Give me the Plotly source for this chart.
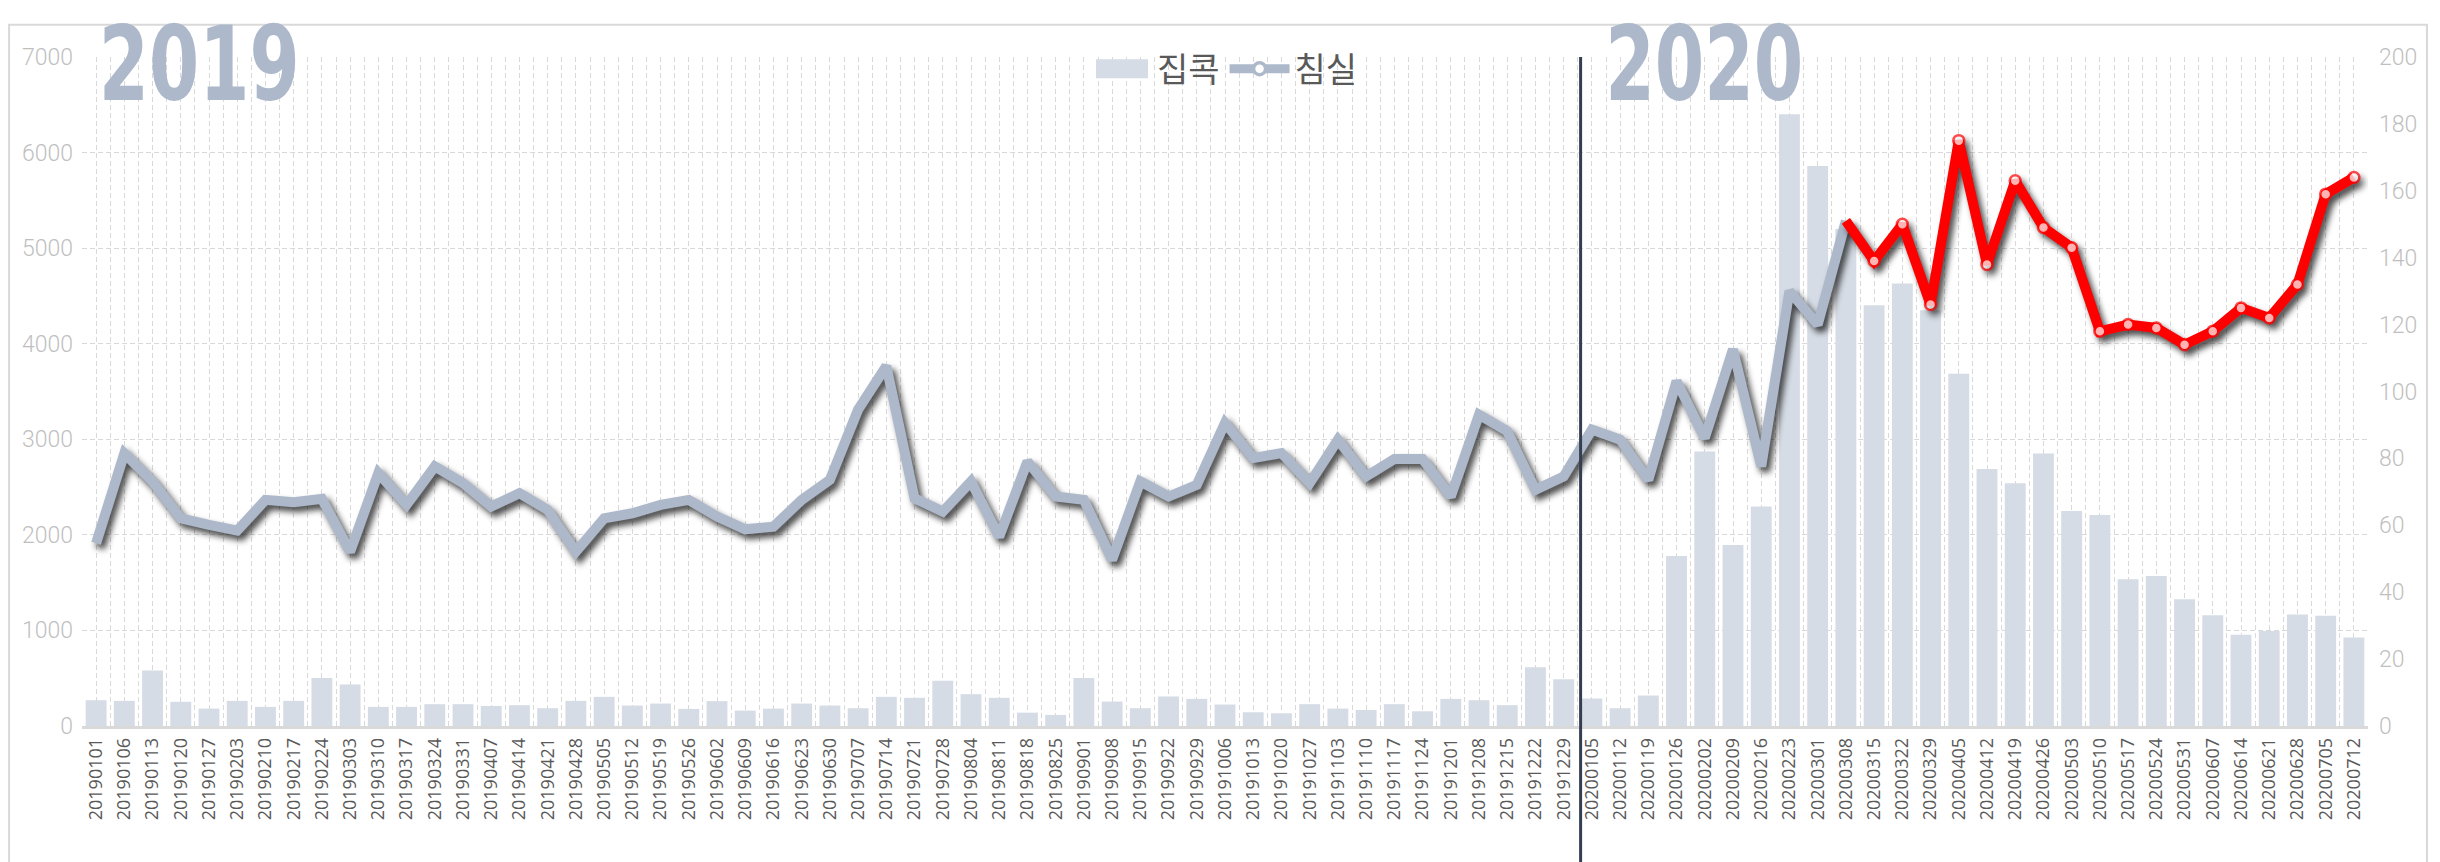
import plotly.graph_objects as go

# ---------------- data ----------------
weeks = [
    "20190101", "20190106", "20190113", "20190120", "20190127", "20190203", "20190210", "20190217",
    "20190224", "20190303", "20190310", "20190317", "20190324", "20190331", "20190407", "20190414",
    "20190421", "20190428", "20190505", "20190512", "20190519", "20190526", "20190602", "20190609",
    "20190616", "20190623", "20190630", "20190707", "20190714", "20190721", "20190728", "20190804",
    "20190811", "20190818", "20190825", "20190901", "20190908", "20190915", "20190922", "20190929",
    "20191006", "20191013", "20191020", "20191027", "20191103", "20191110", "20191117", "20191124",
    "20191201", "20191208", "20191215", "20191222", "20191229", "20200105", "20200112", "20200119",
    "20200126", "20200202", "20200209", "20200216", "20200223", "20200301", "20200308", "20200315",
    "20200322", "20200329", "20200405", "20200412", "20200419", "20200426", "20200503", "20200510",
    "20200517", "20200524", "20200531", "20200607", "20200614", "20200621", "20200628", "20200705",
    "20200712",
]

# 집콕 (bars, left axis)
jipkok = [
    270, 263, 582, 253, 182, 263, 200, 263, 502, 435,
    200, 200, 228, 228, 210, 218, 186, 263, 305, 214,
    235, 179, 260, 161, 182, 235, 214, 186, 305, 295,
    474, 333, 295, 140, 116, 502, 256, 186, 309, 284,
    225, 144, 133, 228, 182, 168, 228, 154, 284, 270,
    218, 614, 488, 288, 186, 319, 1779, 2872, 1894, 2296,
    6400, 5860, 5200, 4403, 4630, 4350, 3685, 2690, 2541, 2851,
    2250, 2209, 1535, 1570, 1326, 1160, 954, 993, 1167, 1153,
    926,
]

# 침실 (line, right axis)
chimsil = [
    54.6, 81.5, 73.1, 62.1, 60.1, 58.4, 67.6, 66.9, 67.9, 52.1,
    75.6, 66.1, 77.6, 72.6, 65.6, 69.6, 64.6, 52.1, 62.1, 63.6,
    66.1, 67.6, 62.6, 58.8, 59.6, 67.6, 73.6, 94.6, 107.6, 68.1,
    64.1, 73.1, 56.6, 79.1, 68.6, 67.6, 49.7, 73.1, 68.6, 72.1,
    90.6, 80.1, 81.6, 72.6, 85.6, 74.6, 79.8, 79.8, 68.6, 93.1,
    88.1, 70.6, 74.6, 88.6, 85.6, 73.6, 103.1, 86.1, 112.6, 77.6,
    130.0, 120.0, 151.0, 139.0, 150.0, 126.0, 175.0, 138.0, 163.0, 149.0,
    143.0, 118.0, 120.0, 119.0, 114.0, 118.0, 125.0, 122.0, 132.0, 159.0,
    164.0,
]

highlight_from = "20200308"
year_labels = ["2019", "2020"]
series_names = ["집콕", "침실"]

# ---------------- styles ----------------
BAR_COLOR = "#d6dce5"
GRAY_LINE = "#adb9ca"
RED = "#ff0000"
GRID = "#d9d9d9"
AXIS_TEXT = "#bfbfbf"
DARK_TEXT = "#595959"
NUM_FONT = "Roboto"
YEAR_FONT = "DejaVu Sans Condensed, DejaVu Sans, sans-serif"

idx = list(range(len(weeks)))
h = weeks.index(highlight_from)

fig = go.Figure()

fig.add_trace(go.Bar(
    x=idx, y=jipkok, name=series_names[0], marker=dict(color=BAR_COLOR, line=dict(width=0)),
    yaxis="y", showlegend=True,
))

# gray part of the line
fig.add_trace(go.Scatter(
    x=idx[:h + 1], y=chimsil[:h + 1], mode="lines", yaxis="y2",
    line=dict(color=GRAY_LINE, width=10), showlegend=False, name=series_names[1],
))

# red highlighted part
fig.add_trace(go.Scatter(
    x=idx[h:], y=chimsil[h:], mode="lines+markers", yaxis="y2",
    line=dict(color=RED, width=10),
    marker=dict(size=[0] + [11] * (len(idx) - h - 1), color="white", line=dict(color=RED, width=2.5)),
    showlegend=False, name=series_names[1],
))

# legend entry for 침실
fig.add_trace(go.Scatter(
    x=[None], y=[None], mode="lines+markers", yaxis="y2", name=series_names[1],
    line=dict(color=GRAY_LINE, width=9),
    marker=dict(size=12, color="white", line=dict(color=GRAY_LINE, width=3.5)),
))

# tick positions: category centres (labelled) and boundaries (grid only)
tickvals, ticktext = [], []
for i, w in enumerate(weeks):
    tickvals += [i - 0.5, i]
    ticktext += ["", w]
tickvals.append(len(weeks) - 0.5)
ticktext.append("")

fig.update_layout(
    width=2440, height=862,
    margin=dict(l=82, r=72, t=57, b=136),
    paper_bgcolor="white", plot_bgcolor="white",
    bargap=0.26,
    xaxis=dict(
        range=[-0.5, len(weeks) - 0.5], tickmode="array", tickvals=tickvals, ticktext=ticktext,
        tickangle=-90, tickfont=dict(family="Open Sans", size=18, color=DARK_TEXT),
        showgrid=True, gridcolor=GRID, gridwidth=1.3, griddash="5px,3px",
        showline=True, linecolor=GRID, linewidth=2.5, ticks="", zeroline=False,
        ticklabelstandoff=2,
    ),
    yaxis=dict(
        range=[0, 7000], dtick=1000, showgrid=True, gridcolor=GRID, gridwidth=1.3, griddash="5px,3px",
        tickfont=dict(family=NUM_FONT, size=23, color=AXIS_TEXT, weight=300),
        zeroline=False, ticks="", ticklabelstandoff=8,
    ),
    yaxis2=dict(
        range=[0, 200], dtick=20, overlaying="y", side="right", showgrid=False, zeroline=False,
        tickfont=dict(family=NUM_FONT, size=23, color=AXIS_TEXT, weight=300), ticks="",
        ticklabelstandoff=10,
    ),
    legend=dict(
        orientation="h", x=0.5, xanchor="center", y=0.982, yanchor="middle",
        font=dict(family="Noto Sans CJK KR", size=34, color=DARK_TEXT),
        bgcolor="rgba(0,0,0,0)", itemwidth=60, traceorder="normal",
    ),
    shapes=[
        dict(type="rect", xref="paper", yref="paper", x0=-0.0319, x1=1.0258, y0=-0.25, y1=1.0483,
             line=dict(color=GRID, width=2), layer="below"),
        dict(type="line", xref="x", yref="paper", x0=52.6, x1=52.6, y0=-0.22, y1=1.0,
             line=dict(color="#333f50", width=3)),
    ],
    annotations=[
        dict(text=year_labels[0], xref="paper", yref="paper", x=0.051, y=1.083, xanchor="center",
             yanchor="top", showarrow=False,
             font=dict(family=YEAR_FONT, size=104, color=GRAY_LINE, weight="bold")),
        dict(text=year_labels[1], xref="paper", yref="paper", x=0.7096, y=1.083, xanchor="center",
             yanchor="top", showarrow=False,
             font=dict(family=YEAR_FONT, size=104, color=GRAY_LINE, weight="bold")),
    ],
)

post = """
document.body.style.margin = '0';
var gd = document.getElementById('{plot_id}');
function tweak(){
  gd.querySelectorAll('.scatterlayer .trace').forEach(function(t){
    t.style.filter = 'drop-shadow(4px 5px 3px rgba(0,0,0,0.7))';
  });
  gd.querySelectorAll('.annotation-text').forEach(function(t){
    var s = t.textContent.trim();
    if (s === '2019' || s === '2020') {
      t.setAttribute('textLength', s === '2019' ? '201' : '198');
      t.setAttribute('lengthAdjust', 'spacingAndGlyphs');
    }
  });
  var items = gd.querySelectorAll('.legend .traces');
  items.forEach(function(it, k){
    var paths = it.querySelectorAll('.legendpoints path');
    paths.forEach(function(p){
      if (p.dataset.done) return;
      var b; try { b = p.getBBox(); } catch(e) { return; }
      if (!b || b.width === 0) return;
      var cx = b.x + b.width/2, cy = b.y + b.height/2;
      if (k === 0) {
        p.setAttribute('d', 'M'+(cx-26)+','+(cy-9.5)+'h52v19h-52Z');
        p.dataset.done = '1';
      } else if (p.classList.contains('js-line')) {
        p.setAttribute('d', 'M'+(cx-31)+','+cy+'h62');
        p.dataset.done = '1';
      }
    });
  });
}
tweak();
gd.on('plotly_afterplot', tweak);
"""

fig.write_html("out.html", post_script=post, config={"displayModeBar": False})
